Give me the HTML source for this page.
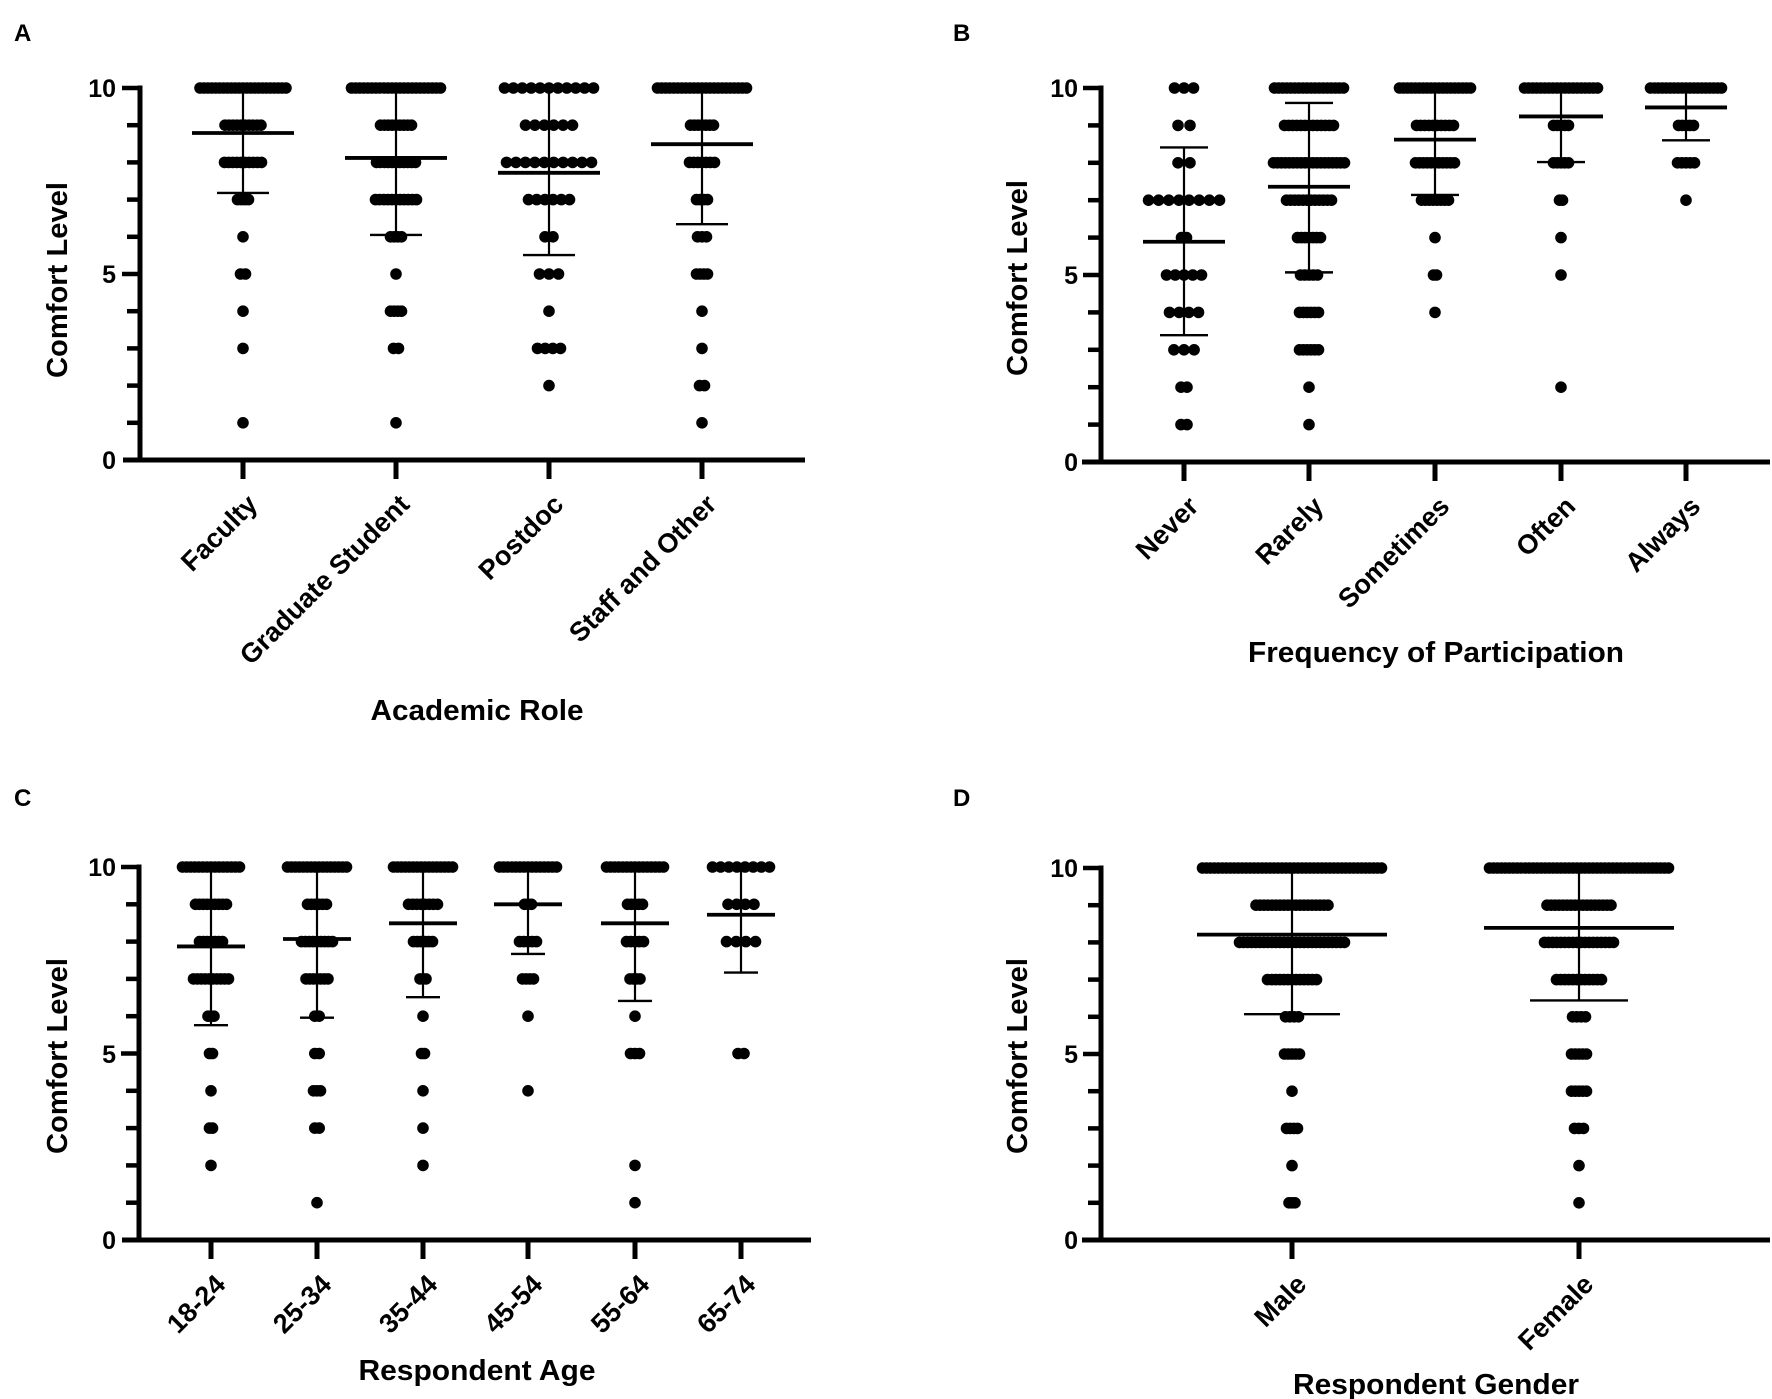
<!DOCTYPE html>
<html><head><meta charset="utf-8"><style>
html,body{margin:0;padding:0;background:#fff;}
svg{display:block;}
text{font-family:"Liberation Sans",Arial,sans-serif;font-weight:bold;fill:#000;}
</style></head><body>
<svg id="s" xmlns="http://www.w3.org/2000/svg" width="1772" height="1399" viewBox="0 0 1772 1399">
<rect width="1772" height="1399" fill="#fff"/>
<g id="g"></g>
<text x="14" y="41" font-size="24">A</text>
<text x="953" y="41" font-size="24">B</text>
<text x="14" y="806" font-size="24">C</text>
<text x="953" y="806" font-size="24">D</text>
<text transform="translate(67,280) rotate(-90)" text-anchor="middle" font-size="29" textLength="196" lengthAdjust="spacingAndGlyphs">Comfort Level</text>
<text transform="translate(1027,278) rotate(-90)" text-anchor="middle" font-size="29" textLength="196" lengthAdjust="spacingAndGlyphs">Comfort Level</text>
<text transform="translate(67,1056) rotate(-90)" text-anchor="middle" font-size="29" textLength="196" lengthAdjust="spacingAndGlyphs">Comfort Level</text>
<text transform="translate(1027,1056) rotate(-90)" text-anchor="middle" font-size="29" textLength="196" lengthAdjust="spacingAndGlyphs">Comfort Level</text>
<g font-size="25" text-anchor="end">
<text x="116" y="97">10</text><text x="116" y="283">5</text><text x="116" y="469">0</text>
<text x="1078" y="97">10</text><text x="1078" y="284">5</text><text x="1078" y="471">0</text>
<text x="116" y="876">10</text><text x="116" y="1063">5</text><text x="116" y="1249">0</text>
<text x="1078" y="877">10</text><text x="1078" y="1063">5</text><text x="1078" y="1249">0</text>
</g>
<g font-size="27" text-anchor="end">
<text transform="translate(259,506) rotate(-45)">Faculty</text>
<text transform="translate(411,506) rotate(-45)">Graduate Student</text>
<text transform="translate(565,506) rotate(-45)">Postdoc</text>
<text transform="translate(718,506) rotate(-45)">Staff and Other</text>
<text transform="translate(1200,508) rotate(-45)">Never</text>
<text transform="translate(1325,508) rotate(-45)">Rarely</text>
<text transform="translate(1451,508) rotate(-45)">Sometimes</text>
<text transform="translate(1577,508) rotate(-45)">Often</text>
<text transform="translate(1702,508) rotate(-45)">Always</text>
<text transform="translate(227,1286) rotate(-45)">18-24</text>
<text transform="translate(333,1286) rotate(-45)">25-34</text>
<text transform="translate(439,1286) rotate(-45)">35-44</text>
<text transform="translate(544,1286) rotate(-45)">45-54</text>
<text transform="translate(651,1286) rotate(-45)">55-64</text>
<text transform="translate(757,1286) rotate(-45)">65-74</text>
<text transform="translate(1308,1286) rotate(-45)">Male</text>
<text transform="translate(1595,1286) rotate(-45)">Female</text>
</g>
<text x="477" y="720" text-anchor="middle" font-size="29" textLength="213" lengthAdjust="spacingAndGlyphs">Academic Role</text>
<text x="1436" y="662" text-anchor="middle" font-size="29" textLength="376" lengthAdjust="spacingAndGlyphs">Frequency of Participation</text>
<text x="477" y="1380" text-anchor="middle" font-size="29" textLength="237" lengthAdjust="spacingAndGlyphs">Respondent Age</text>
<text x="1436" y="1394" text-anchor="middle" font-size="29" textLength="286" lengthAdjust="spacingAndGlyphs">Respondent Gender</text>
</svg>
<script>
var NS="http://www.w3.org/2000/svg",G=document.getElementById("g");
function el(t,a){var e=document.createElementNS(NS,t);for(var k in a)e.setAttribute(k,a[k]);G.appendChild(e);return e;}
function ln(x1,y1,x2,y2,w){el("line",{x1:x1,y1:y1,x2:x2,y2:y2,stroke:"#000","stroke-width":w});}
function panel(P){
 var u=(P.y0-P.y10)/10;function Y(v){return P.y0-v*u;}
 P.cats.forEach(function(c){
  var sp=c.sp||4;
  for(var v in c.rows){var h=c.rows[v],y=Y(+v);
   if(h<=6){el("circle",{cx:c.x,cy:y,r:5.8});continue;}
   var span=2*h-11,n=Math.max(2,Math.round(span/sp)+1),s=span/(n-1);
   for(var i=0;i<n;i++)el("circle",{cx:c.x-h+5.5+i*s,cy:y,r:5.8});}
  var hi=c.hi==null?10:c.hi;
  ln(c.x,Y(hi),c.x,Y(c.lo),2.2);
  ln(c.x-c.ch,Y(c.lo),c.x+c.ch,Y(c.lo),2.4);
  if(hi<10)ln(c.x-c.ch,Y(hi),c.x+c.ch,Y(hi),2.4);
  ln(c.x-c.mh,Y(c.m),c.x+c.mh,Y(c.m),3.8);
 });
 ln(P.ax,P.y10-2.5,P.ax,P.y0+2.5,5);
 ln(P.xs,P.y0,P.xe,P.y0,5);
 for(var v=1;v<10;v++){if(v==5)continue;ln(P.ax-13,Y(v),P.ax,Y(v),4.5);}
 ln(P.ax-18,Y(10),P.ax,Y(10),4.5);ln(P.ax-18,Y(5),P.ax,Y(5),4.5);
 P.cats.forEach(function(c){ln(c.x,P.y0,c.x,P.y0+19,5);});
}
panel({ax:140,y10:88,y0:460,xs:123,xe:805,cats:[
 {x:243,m:8.79,lo:7.18,mh:51,ch:26,rows:{10:48.5,9:23.5,8:24,7:11,6:5,5:8,4:5,3:5,1:5}},
 {x:396,m:8.12,lo:6.05,mh:51,ch:26,rows:{10:50,9:21,8:25,7:26,6:11,5:5,4:11,3:8,1:5}},
 {x:549,m:7.72,lo:5.51,mh:51,ch:26,sp:9,rows:{10:50,9:29,8:48,7:26,6:9.5,5:15,4:5,3:17,2:5}},
 {x:702,m:8.49,lo:6.34,mh:51,ch:26,rows:{10:50,9:17,8:18,7:11,6:10,5:11,4:5,3:5,2:8,1:5}}]});
panel({ax:1101,y10:88,y0:462,xs:1082,xe:1770,cats:[
 {x:1184,m:5.89,lo:3.39,hi:8.41,mh:41,ch:24,sp:9.5,rows:{10:15,9:11.5,8:11.5,7:41,6:8,5:23,4:20,3:15.6,2:8.5,1:8.5}},
 {x:1309,m:7.36,lo:5.07,hi:9.6,mh:41,ch:24,rows:{10:40,9:30,8:41,7:28,6:17,5:14,4:15,3:15,2:5,1:5}},
 {x:1435,m:8.62,lo:7.14,mh:41,ch:24,rows:{10:41,9:24,8:25,7:19,6:5,5:7,4:5}},
 {x:1561,m:9.24,lo:8.02,mh:42,ch:24,rows:{10:42,9:13,8:13,7:7,6:5,5:5,2:5}},
 {x:1686,m:9.48,lo:8.6,mh:41,ch:24,rows:{10:41,9:13,8:14,7:5}}]});
panel({ax:139,y10:867,y0:1240,xs:122,xe:811,cats:[
 {x:211,m:7.87,lo:5.76,mh:34,ch:17,rows:{10:34,9:21,8:17,7:23,6:8.5,5:7,4:5,3:7,2:5}},
 {x:317,m:8.07,lo:5.96,mh:34,ch:17,rows:{10:35,9:15,8:21,7:16.5,6:7.7,5:7.7,4:9,3:7.7,1:5}},
 {x:423,m:8.49,lo:6.51,mh:34,ch:17,rows:{10:35,9:20,8:15,7:8.5,6:5,5:7,4:5,3:5,2:5}},
 {x:528,m:9.0,lo:7.67,mh:34,ch:17,rows:{10:34,9:9,8:14,7:11,6:5,4:5}},
 {x:635,m:8.49,lo:6.41,mh:34,ch:17,rows:{10:34,9:13,8:14,7:10.5,6:5,5:10,2:5,1:5}},
 {x:741,m:8.72,lo:7.17,mh:34,ch:17,sp:8.5,rows:{10:34,9:18.5,8:20,5:8.5}}]});
panel({ax:1101,y10:868,y0:1240,xs:1082,xe:1770,cats:[
 {x:1292,m:8.21,lo:6.07,mh:95,ch:48,rows:{10:95,9:41.5,8:58,7:30,6:12,5:13,4:5,3:11,2:5,1:8.5}},
 {x:1579,m:8.39,lo:6.44,mh:95,ch:49,rows:{10:95,9:37.5,8:40,7:28,6:12,5:13,4:13,3:10,2:5,1:5}}]});
</script>
</body></html>
